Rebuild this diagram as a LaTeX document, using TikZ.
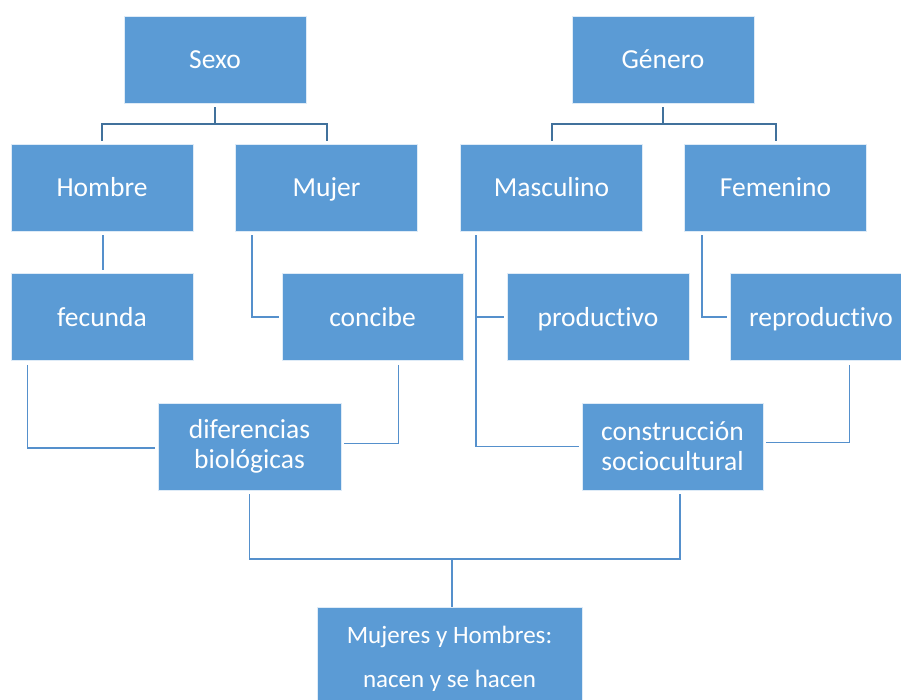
\documentclass[tikz,border=0pt]{standalone}
\usepackage{fontspec}
\setmainfont{Carlito}[Ligatures=NoCommon]
\usetikzlibrary{calc}
\definecolor{boxblue}{HTML}{5B9BD5}
\definecolor{linedark}{HTML}{41719C}
\definecolor{lineblue}{HTML}{5590CC}
\begin{document}
\begin{tikzpicture}[x=1pt,y=-1pt,
  box/.style={fill=boxblue, draw=white!80!boxblue, line width=0.8pt,
    minimum width=182pt, minimum height=87pt, inner sep=0pt,
    text=white, font=\fontsize{27.5}{30}\selectfont, align=center},
  onebox/.style={box, text height=18pt, text depth=0pt},
  topconn/.style={draw=linedark, line width=2pt},
  conn/.style={draw=lineblue, line width=1.6pt},
  sh/.style={shorten <=4pt, shorten >=3pt}]
\useasboundingbox (0,0) rectangle (901,699);
\clip (0,0) rectangle (901,699);
\fill[white] (0,0) rectangle (901,699);

% nodes
\node[onebox] (sexo) at (215,59.5) {Sexo};
\node[onebox] (genero) at (663,59.5) {Género};
\node[onebox] (hombre) at (102,187.5) {Hombre};
\node[onebox] (mujer) at (326.5,187.5) {Mujer};
\node[onebox] (masculino) at (551.5,187.5) {Masculino};
\node[onebox] (femenino) at (775.5,187.5) {Femenino};
\node[onebox] (fecunda) at (102,317) {fecunda};
\node[onebox, minimum width=181pt] (concibe) at (372.5,317) {concibe};
\node[onebox] (productivo) at (598,317) {productivo};
\node[onebox] (reproductivo) at (821,317) {reproductivo};
\node[box, minimum width=183pt] (diferencias) at (249.5,446.5) {diferencias\\biológicas};
\node[box, minimum width=181pt] (construccion) at (672.5,446.5) {construcción\\sociocultural};
\node[box, minimum width=265pt, minimum height=103pt, font=\fontsize{25}{44}\selectfont] (final) at (449.5,658.5) {Mujeres y Hombres:\\nacen y se hacen};

% top trees
\coordinate (s1) at (215,124);
\coordinate (g1) at (663,124);
\draw[topconn, shorten <=4pt] (sexo.south) -- (s1);
\draw[topconn, shorten >=3pt] (s1) -| (hombre.north);
\draw[topconn, shorten >=3pt] (s1) -| (mujer.north);
\draw[topconn, shorten <=4pt] (genero.south) -- (g1);
\draw[topconn, shorten >=3pt] (g1) -| (masculino.north);
\draw[topconn, shorten >=3pt] (g1) -| (femenino.north);

% second level
\draw[conn, sh] ([xshift=1pt]hombre.south) -- ([xshift=1pt]fecunda.north);
\draw[conn, sh] ([xshift=17pt]mujer.south west) |- (concibe.west);
\draw[conn, sh] ([xshift=16pt]masculino.south west) |- (productivo.west);
\draw[conn, sh] ([xshift=16pt]masculino.south west) |- (construccion.west);
\draw[conn, sh] ([xshift=18pt]femenino.south west) |- (reproductivo.west);

% third level
\draw[conn, sh] ([xshift=17pt]fecunda.south west) |- ([yshift=-1.5pt]diferencias.west);
\draw[conn, sh] ([xshift=-65pt]concibe.south east) |- ([yshift=3pt]diferencias.east);
\draw[conn, sh] ([xshift=120pt]reproductivo.south west) |- ([yshift=4pt]construccion.east);

% bottom
\coordinate (j) at (452,559);
\draw[conn, shorten <=4pt] (diferencias.south) |- (j);
\draw[conn, shorten <=4pt] ([xshift=7.5pt]construccion.south) |- (j);
\draw[conn, shorten >=0pt] (j) -- ([xshift=2.5pt]final.north);
\end{tikzpicture}
\end{document}
